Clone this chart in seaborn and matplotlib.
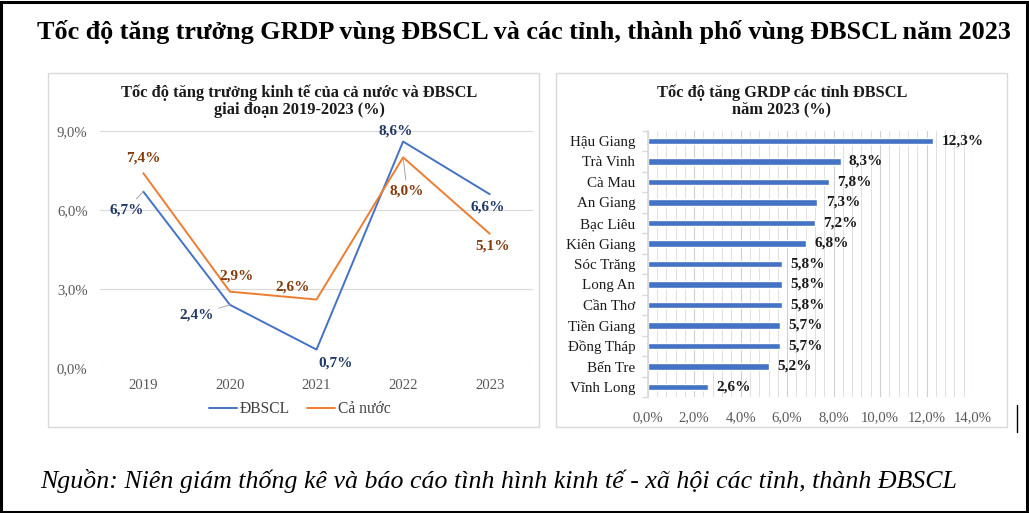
import numpy as np
import pandas as pd
import matplotlib
matplotlib.use("Agg")
import matplotlib.pyplot as plt
from matplotlib.patches import Rectangle
from matplotlib.lines import Line2D
from matplotlib.ticker import FuncFormatter, MultipleLocator, FixedLocator
import seaborn as sns

# ---------------- data ----------------
years = [2019, 2020, 2021, 2022, 2023]
dbscl = [6.7, 2.4, 0.7, 8.6, 6.6]
ca_nuoc = [7.4, 2.9, 2.6, 8.0, 5.1]

provinces = ["Hậu Giang", "Trà Vinh", "Cà Mau", "An Giang", "Bạc Liêu", "Kiên Giang",
             "Sóc Trăng", "Long An", "Cần Thơ", "Tiền Giang", "Đồng Tháp", "Bến Tre", "Vĩnh Long"]
grdp_2023 = [12.3, 8.3, 7.8, 7.3, 7.2, 6.8, 5.8, 5.8, 5.8, 5.7, 5.7, 5.2, 2.6]

main_title = "Tốc độ tăng trưởng GRDP vùng ĐBSCL và các tỉnh, thành phố vùng ĐBSCL năm 2023"
left_title = "Tốc độ tăng trưởng kinh tế của cả nước và ĐBSCL\ngiai đoạn 2019-2023 (%)"
right_title = "Tốc độ tăng GRDP các tỉnh ĐBSCL\nnăm 2023 (%)"
footer = "Nguồn: Niên giám thống kê và báo cáo tình hình kinh tế - xã hội các tỉnh, thành ĐBSCL"

# ---------------- style ----------------
sns.set_theme(style="white")
plt.rcParams["font.family"] = ["Liberation Serif", "DejaVu Serif"]

W, H = 1029, 513
fig = plt.figure(figsize=(W / 100, H / 100), dpi=100)
fig.patch.set_facecolor("white")


def rect(x0, y0, x1, y1):
    """pixel box (top-left origin) -> figure fraction rect"""
    return [x0 / W, 1 - y1 / H, (x1 - x0) / W, (y1 - y0) / H]


def fmt_pct(v, _=None):
    return f"{v:.1f}%".replace(".", ",")


# outer black frame
fig.add_artist(Rectangle((0.001, 0.002), 0.997, 0.995, transform=fig.transFigure,
                         fill=False, edgecolor="black", linewidth=2.2))
# panel frames
fig.add_artist(Rectangle((48 / W, 1 - 427 / H), (539 - 48) / W, (427 - 73) / H,
                         transform=fig.transFigure, fill=False, edgecolor="#D9D9D9", linewidth=1))
fig.add_artist(Rectangle((556 / W, 1 - 427 / H), (1007 - 556) / W, (427 - 73) / H,
                         transform=fig.transFigure, fill=False, edgecolor="#D9D9D9", linewidth=1))
# small stray mark
fig.add_artist(Line2D([1017 / W, 1017 / W], [1 - 405 / H, 1 - 432 / H],
                      transform=fig.transFigure, color="black", linewidth=1))

fig.text(524 / W, 1 - 32 / H, main_title, ha="center", va="center",
         fontsize=18.8, fontweight="bold", color="black")
fig.text(40 / W, 1 - 481 / H, footer, ha="left", va="center",
         fontsize=18.6, fontstyle="italic", color="black")

# ---------------- left: line chart ----------------
axL = fig.add_axes(rect(100, 131, 533, 368))
df = pd.DataFrame({
    "year": years * 2,
    "value": dbscl + ca_nuoc,
    "series": ["ĐBSCL"] * len(years) + ["Cả nước"] * len(years),
})
line_colors = {"ĐBSCL": "#4472C4", "Cả nước": "#ED7D31"}
sns.lineplot(data=df, x="year", y="value", hue="series", hue_order=["ĐBSCL", "Cả nước"],
             palette=line_colors, linewidth=1.4, ax=axL, legend=True)
axL.set_xlim(2018.5, 2023.5)
axL.set_ylim(0, 9)
axL.yaxis.set_major_locator(MultipleLocator(3))
axL.yaxis.set_major_formatter(FuncFormatter(fmt_pct))
axL.set_xticks(years)
axL.set_xticklabels([str(y) for y in years])
axL.grid(axis="y", color="#D9D9D9", linewidth=0.8)
axL.set_axisbelow(True)
for s in axL.spines.values():
    s.set_visible(False)
axL.tick_params(axis="both", length=0, labelsize=10.6, labelcolor="#595959")
axL.tick_params(axis="y", pad=9)
axL.tick_params(axis="x", pad=8)
axL.set_xlabel("")
axL.set_ylabel("")
fig.text(299 / W, 1 - 101 / H, left_title, ha="center", va="center", fontsize=11.8,
         fontweight="bold", color="#1a1a1a", linespacing=1.1)

# data labels
off_db = [(-17, -18), (-33, -10), (19, -13), (-7, 11), (-2, -13)]
off_cn = [(0, 15), (7, 16), (-24, 13), (4, -34), (3, -12)]
lead_db = [True, True, False, False, False]
lead_cn = [False, False, False, True, False]
for yr, v, o, ld in zip(years, dbscl, off_db, lead_db):
    axL.annotate(fmt_pct(v), (yr, v), xytext=o, textcoords="offset pixels",
                 ha="center", va="center", fontsize=11, fontweight="bold", color="#203864",
                 arrowprops=dict(arrowstyle="-", color="#A6A6A6", lw=0.7, shrinkA=1, shrinkB=0)
                 if ld else None)
for yr, v, o, ld in zip(years, ca_nuoc, off_cn, lead_cn):
    axL.annotate(fmt_pct(v), (yr, v), xytext=o, textcoords="offset pixels",
                 ha="center", va="center", fontsize=11, fontweight="bold", color="#843C0C",
                 arrowprops=dict(arrowstyle="-", color="#A6A6A6", lw=0.7, shrinkA=1, shrinkB=0)
                 if ld else None)

leg = axL.legend(loc="center", bbox_to_anchor=(300 / W, 1 - 409 / H),
                 bbox_transform=fig.transFigure, ncol=2, frameon=False, fontsize=11.2,
                 handlelength=1.8, columnspacing=1.1, handletextpad=0.2)
for t in leg.get_texts():
    t.set_color("#404040")

# ---------------- right: bar chart ----------------
axR = fig.add_axes(rect(647.7, 130.75, 973, 397.25))
dfb = pd.DataFrame({"province": provinces, "value": grdp_2023})
sns.barplot(data=dfb, x="value", y="province", orient="h", color="#4472C4",
            width=0.3, saturation=1, ax=axR)
axR.set_xlim(0, 14)
axR.set_ylim(len(provinces) - 0.5, -0.5)
axR.xaxis.set_major_locator(MultipleLocator(2))
axR.xaxis.set_minor_locator(MultipleLocator(0.4))
axR.xaxis.set_major_formatter(FuncFormatter(fmt_pct))
axR.grid(axis="x", which="major", color="#CFCFCF", linewidth=0.8)
axR.grid(axis="x", which="minor", color="#E0E0E0", linewidth=0.7)
axR.set_axisbelow(True)
for k, s in axR.spines.items():
    s.set_visible(k == "left")
axR.spines["left"].set_color("#D9D9D9")
axR.yaxis.set_minor_locator(FixedLocator(np.arange(-0.5, len(provinces), 1.0)))
axR.tick_params(axis="y", which="minor", length=4, color="#D9D9D9", left=True)
axR.tick_params(axis="y", which="major", length=0, pad=9, labelsize=10.8, labelcolor="#1a1a1a")
axR.tick_params(axis="x", which="both", length=0, pad=10, labelsize=10.6, labelcolor="#595959")
axR.set_xlabel("")
axR.set_ylabel("")
axR.bar_label(axR.containers[0], labels=[fmt_pct(v) for v in grdp_2023], padding=6,
              fontsize=11, fontweight="bold", color="#1a1a1a")
fig.text(782 / W, 1 - 101 / H, right_title, ha="center", va="center", fontsize=11.8,
         fontweight="bold", color="#1a1a1a", linespacing=1.1)

fig.savefig("out.png", dpi=100, facecolor="white")
